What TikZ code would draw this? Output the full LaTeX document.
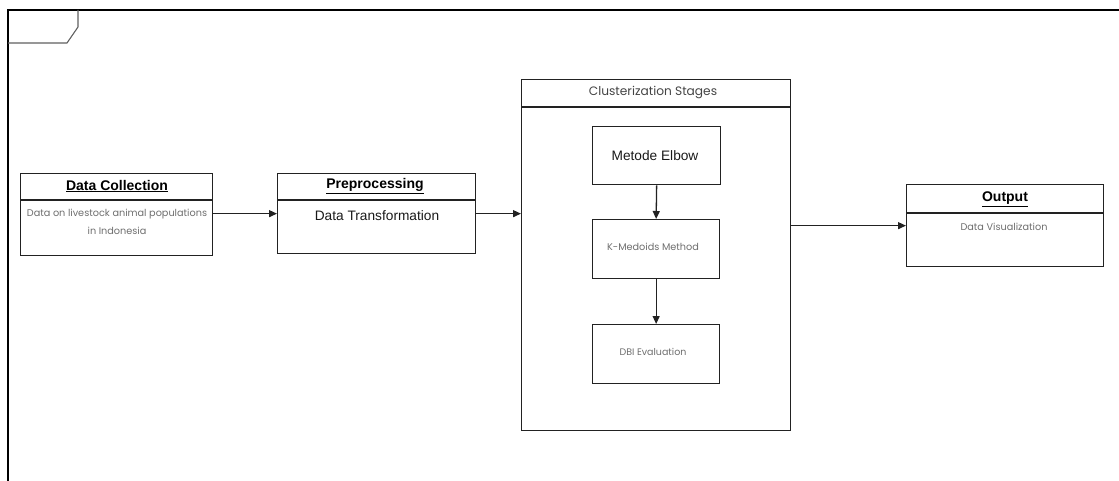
\documentclass[tikz,border=0pt]{standalone}
\usepackage{fontspec}
\setmainfont{Liberation Sans}
\newfontfamily\pop{Poppins}
\usetikzlibrary{arrows.meta}
\definecolor{edge}{HTML}{222222}
\definecolor{soft}{HTML}{6E6E6E}
\definecolor{mid}{HTML}{444444}
\begin{document}
\begin{tikzpicture}[x=1pt,y=-1pt,
  box/.style={draw=edge, line width=1.3pt, rectangle, inner sep=0pt, anchor=north west},
  hdr/.style={draw=edge, line width=1.3pt},
  ttl/.style={font=\fontsize{14}{16}\selectfont\bfseries, text=black, inner sep=0pt},
  bod/.style={font=\pop\fontsize{9.7}{18}\selectfont, text=soft, align=center, inner sep=0pt},
  big/.style={font=\fontsize{13.7}{16}\selectfont, text=black!90, inner sep=0pt},
  arr/.style={draw=edge, line width=1.3pt, -{Triangle[length=8pt,width=7pt]}}
]
\useasboundingbox (0,0) rectangle (1119,481);
% frame
\draw[black, line width=1.5pt] (8,481) -- (8,10) -- (1119,10);
\draw[gray!75!black, line width=1.1pt] (8,43) -- (67,43) -- (78,27) -- (78,10);

% Data Collection
\node[box, minimum width=192pt, minimum height=82pt] (dc) at (20,173) {};
\draw[hdr] ([yshift=-27pt]dc.north west) -- ([yshift=-27pt]dc.north east);
\node[ttl] (dct) at (117,186) {\underline{Data Collection}};
\node[bod, anchor=north] (dcb) at (117,209) {Data on livestock animal populations\\in Indonesia};

% Preprocessing
\node[box, minimum width=198pt, minimum height=80pt] (pp) at (277,173) {};
\draw[hdr] ([yshift=-27pt]pp.north west) -- ([yshift=-27pt]pp.north east);
\node[ttl] (ppt) at (375,186) {\underline{Preprocessing}};
\node[big] (ppb) at (377,216) {Data Transformation};

% Clusterization
\node[box, minimum width=269pt, minimum height=351pt] (cl) at (521,79) {};
\draw[hdr] ([yshift=-28pt]cl.north west) -- ([yshift=-28pt]cl.north east);
\node[font=\pop\fontsize{12.2}{14}\selectfont, text=mid, inner sep=0pt] (clt) at (653,93) {Clusterization Stages};

\node[box, minimum width=128pt, minimum height=58pt] (el) at (592,126) {};
\node[big] (elt) at (655,156) {Metode Elbow};
\node[box, minimum width=127pt, minimum height=59pt] (km) at (592,219) {};
\node[bod, font=\pop\fontsize{9.7}{12}\selectfont] (kmt) at (653,247) {K-Medoids Method};
\node[box, minimum width=127pt, minimum height=59pt] (dbi) at (592,324) {};
\node[bod, font=\pop\fontsize{9.5}{12}\selectfont] (dbit) at (653,352) {DBI Evaluation};

% Output
\node[box, minimum width=197pt, minimum height=82pt] (out) at (906,184) {};
\draw[hdr] ([yshift=-29pt]out.north west) -- ([yshift=-29pt]out.north east);
\node[ttl] (outt) at (1005,199) {\underline{Output}};
\node[bod] (outb) at (1004,227) {Data Visualization};

% connectors
\draw[arr] ([yshift=1pt]dc.east) -- ([yshift=1pt]dc.east -| pp.west);
\draw[arr] (pp.east) -- (pp.east -| cl.west);
\draw[arr] (out.west -| cl.east) -- (out.west);
\draw[arr] (el.south) -- (km.north);
\draw[arr] (km.south) -- (dbi.north);
\end{tikzpicture}
\end{document}
